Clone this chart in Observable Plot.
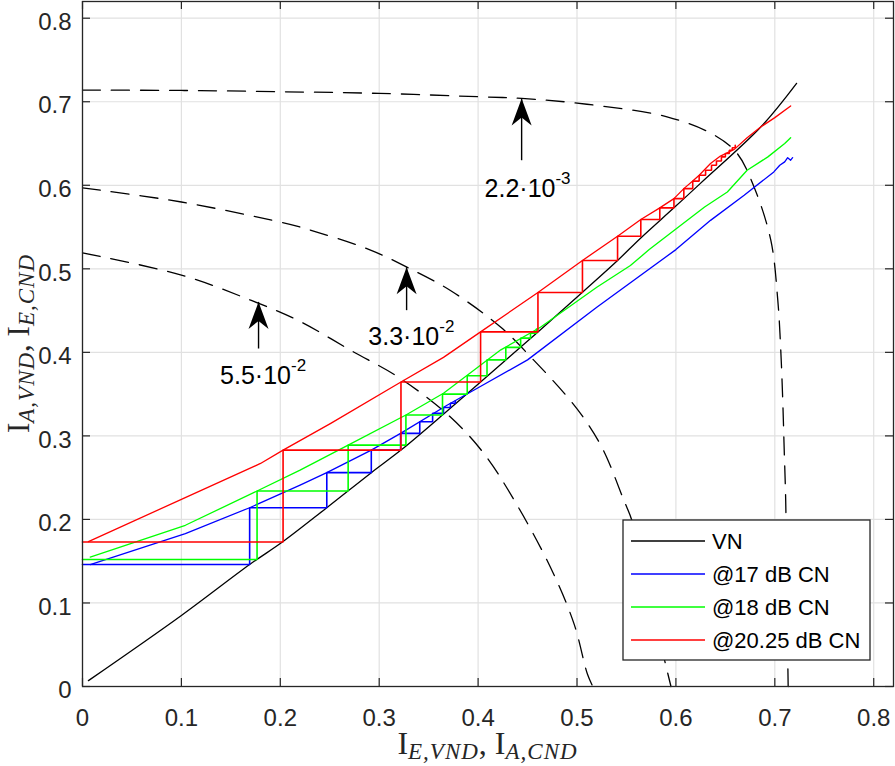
<!DOCTYPE html>
<html>
<head>
<meta charset="utf-8">
<script src="https://cdn.jsdelivr.net/npm/d3@7"></script>
<script src="https://cdn.jsdelivr.net/npm/@observablehq/plot@0.6"></script>
<style>
html, body { margin: 0; padding: 0; background: #fff; }
#chart svg { display: block; }
</style>
</head>
<body>
<div id="chart"></div>
<script>
// ---------- data ----------
const xTicks = [0, 0.1, 0.2, 0.3, 0.4, 0.5, 0.6, 0.7, 0.8];
const yTicks = [0, 0.1, 0.2, 0.3, 0.4, 0.5, 0.6, 0.7, 0.8];

// VN EXIT curve
const vnCurve = [[0.006,0.007],[0.1,0.085],[0.169,0.146],[0.2028,0.1735],[0.247,0.214],[0.292,0.256],[0.322,0.283],[0.364,0.325],[0.4025,0.3645],[0.4605,0.4245],[0.5055,0.472],[0.541,0.510],[0.5645,0.537],[0.598,0.573],[0.6245,0.602],[0.686,0.670],[0.722,0.722]];

// CN EXIT curves
const cn17 = [[0.0078,0.146],[0.104,0.183],[0.169,0.214],[0.22,0.241],[0.247,0.256],[0.292,0.283],[0.3216,0.303],[0.369,0.337],[0.396,0.355],[0.45,0.391],[0.52,0.454],[0.6,0.523],[0.635,0.558],[0.669,0.588],[0.699,0.616],[0.705,0.624],[0.71,0.628],[0.713,0.633],[0.716,0.630],[0.718,0.633]];
const cn18 = [[0.0078,0.155],[0.104,0.193],[0.1765,0.234],[0.22,0.259],[0.2686,0.289],[0.327,0.325],[0.365,0.351],[0.423,0.403],[0.463,0.430],[0.52,0.478],[0.554,0.504],[0.573,0.523],[0.629,0.574],[0.652,0.592],[0.672,0.618],[0.693,0.634],[0.71,0.650],[0.716,0.657]];
const cn2025 = [[0.006,0.1735],[0.1,0.224],[0.18,0.267],[0.2028,0.283],[0.251,0.315],[0.322,0.3645],[0.365,0.394],[0.4025,0.4245],[0.4605,0.4717],[0.5055,0.510],[0.541,0.539],[0.5645,0.559],[0.5837,0.573],[0.598,0.584],[0.608,0.596],[0.617,0.605],[0.6235,0.612],[0.635,0.626],[0.645,0.635],[0.659,0.643],[0.672,0.657],[0.686,0.670],[0.70,0.681],[0.716,0.695]];

// decoding trajectories
const traj17 = [[0,0.146],[0.169,0.146],[0.169,0.214],[0.247,0.214],[0.247,0.256],[0.292,0.256],[0.292,0.283],[0.3216,0.283],[0.3216,0.303],[0.341,0.303],[0.341,0.317],[0.354,0.317],[0.354,0.327],[0.365,0.327],[0.365,0.334],[0.372,0.334],[0.372,0.339],[0.377,0.339],[0.377,0.342]];
const traj18 = [[0,0.152],[0.1765,0.152],[0.1765,0.234],[0.2686,0.234],[0.2686,0.289],[0.327,0.289],[0.327,0.325],[0.364,0.325],[0.364,0.350],[0.389,0.350],[0.389,0.372],[0.409,0.372],[0.409,0.391],[0.428,0.391],[0.428,0.406],[0.443,0.406],[0.443,0.417],[0.453,0.417],[0.453,0.423],[0.459,0.423],[0.459,0.428]];
const traj2025 = [[0,0.173],[0.2028,0.173],[0.2028,0.283],[0.322,0.283],[0.322,0.3645],[0.4025,0.3645],[0.4025,0.4245],[0.4605,0.4245],[0.4605,0.4717],[0.5055,0.4717],[0.5055,0.510],[0.541,0.510],[0.541,0.539],[0.5645,0.539],[0.5645,0.559],[0.5837,0.559],[0.5837,0.573],[0.598,0.573],[0.598,0.584],[0.608,0.584],[0.608,0.596],[0.617,0.596],[0.617,0.605],[0.6235,0.605],[0.6235,0.612],[0.630,0.612],[0.630,0.618],[0.636,0.618],[0.636,0.624],[0.641,0.624],[0.641,0.629],[0.646,0.629],[0.646,0.634],[0.650,0.634],[0.650,0.638],[0.654,0.638],[0.654,0.642],[0.657,0.642],[0.657,0.645],[0.660,0.645],[0.660,0.648]];

// BER contour curves (dashed)
const ber22e3 = [[0,0.714],[0.1,0.7135],[0.2,0.712],[0.3,0.710],[0.4,0.706],[0.444,0.704],[0.51,0.697],[0.591,0.682],[0.639,0.660],[0.662,0.638],[0.679,0.598],[0.696,0.534],[0.703,0.4625],[0.706,0.403],[0.708,0.343],[0.7095,0.283],[0.711,0.223],[0.712,0.12],[0.7135,0]];
const ber33e2 = [[0,0.597],[0.1,0.580],[0.2,0.556],[0.22,0.550],[0.29,0.523],[0.328,0.502],[0.372,0.474],[0.423,0.430],[0.456,0.391],[0.49,0.347],[0.51,0.316],[0.527,0.282],[0.547,0.224],[0.556,0.197],[0.574,0.103],[0.595,0]];
const ber55e2 = [[0,0.519],[0.1,0.4925],[0.17,0.4625],[0.22,0.437],[0.271,0.4025],[0.3216,0.3686],[0.372,0.3225],[0.406,0.2787],[0.436,0.224],[0.473,0.143],[0.497,0.075],[0.5105,0.015],[0.516,0]];

// annotations (data coordinates)
const annotLabels = ["2.2·10^-3", "3.3·10^-2", "5.5·10^-2"];
const annotX      = [0.444, 0.3277, 0.178];
const annotTip    = [0.704, 0.502, 0.4604];
const annotTail   = [0.630, 0.4505, 0.4046];
const annotTextX  = [0.450, 0.3325, 0.1826];
const annotTextY  = [0.586, 0.4085, 0.3626];

const legendLabels = ["VN", "@17 dB CN", "@18 dB CN", "@20.25 dB CN"];
const legendColors = ["#000000", "#0000ff", "#00ff00", "#ff0000"];

// ---------- build ----------
const W = 895, H = 766;
const mL = 82, mR = 2, mT = 1, mB = 80;
const plotW = W - mL - mR, plotH = H - mT - mB;
const axisColor = "#262626";

const pts = arr => arr.map(([x, y]) => ({x, y}));
const annots = annotLabels.map((label, i) => ({
  label, x: annotX[i], tip: annotTip[i], tail: annotTail[i], tx: annotTextX[i], ty: annotTextY[i]
}));

const arrowHead = {
  draw(context) {
    context.moveTo(0, 0);
    context.lineTo(-10, 27);
    context.lineTo(0, 19);
    context.lineTo(10, 27);
    context.closePath();
  }
};

const dashed = {x: "x", y: "y", stroke: "black", strokeWidth: 1.3, strokeDasharray: "18,11", curve: "catmull-rom"};

const chart = Plot.plot({
  width: W, height: H,
  marginLeft: mL, marginRight: mR, marginTop: mT, marginBottom: mB,
  style: {fontFamily: "'Liberation Sans', Arial, Helvetica, sans-serif", background: "#fff", color: axisColor},
  x: {domain: [0, 0.82], label: null},
  y: {domain: [0, 0.82], label: null},
  marks: [
    Plot.gridX(xTicks, {stroke: "#e1e1e1", strokeOpacity: 1, strokeWidth: 1.2}),
    Plot.gridY(yTicks, {stroke: "#e1e1e1", strokeOpacity: 1, strokeWidth: 1.2}),
    Plot.line(pts(ber22e3), dashed),
    Plot.line(pts(ber33e2), dashed),
    Plot.line(pts(ber55e2), dashed),
    Plot.line(pts(vnCurve), {x: "x", y: "y", stroke: "black", strokeWidth: 1.3, curve: "catmull-rom"}),
    Plot.line(pts(cn17), {x: "x", y: "y", stroke: "#0000ff", strokeWidth: 1.3}),
    Plot.line(pts(cn18), {x: "x", y: "y", stroke: "#00ff00", strokeWidth: 1.3}),
    Plot.line(pts(cn2025), {x: "x", y: "y", stroke: "#ff0000", strokeWidth: 1.3}),
    Plot.line(pts(traj17), {x: "x", y: "y", stroke: "#0000ff", strokeWidth: 1.6, strokeLinejoin: "miter"}),
    Plot.line(pts(traj18), {x: "x", y: "y", stroke: "#00ff00", strokeWidth: 1.6, strokeLinejoin: "miter"}),
    Plot.line(pts(traj2025), {x: "x", y: "y", stroke: "#ff0000", strokeWidth: 1.6, strokeLinejoin: "miter"}),
    Plot.link(annots, {x1: "x", x2: "x", y1: "tail", y2: "tip", stroke: "black", strokeWidth: 1.4}),
    Plot.vector(annots, {x: "x", y: "tip", anchor: "start", length: 27, shape: arrowHead, fill: "black", stroke: "none"}),
    Plot.text(annots, {x: "tx", y: "ty", text: "label", fontSize: 25, lineAnchor: "bottom", textAnchor: "middle", fill: "black"}),
    // inward ticks on all four sides
    Plot.ruleX(xTicks, {insetTop: plotH - 8, stroke: axisColor, strokeWidth: 1.2}),
    Plot.ruleX(xTicks, {insetBottom: plotH - 8, stroke: axisColor, strokeWidth: 1.2}),
    Plot.ruleY(yTicks, {insetRight: plotW - 8, stroke: axisColor, strokeWidth: 1.2}),
    Plot.ruleY(yTicks, {insetLeft: plotW - 8, stroke: axisColor, strokeWidth: 1.2}),
    Plot.axisX(xTicks, {tickSize: 0, tickPadding: 22, fontSize: 24, fill: axisColor, tickFormat: d => String(d)}),
    Plot.axisY(yTicks, {tickSize: 0, tickPadding: 11, fontSize: 24, dy: 4, fill: axisColor, tickFormat: d => String(d)}),
    Plot.frame({stroke: axisColor, strokeWidth: 1.3})
  ]
});

const svg = d3.select(chart);

// superscripts in annotation labels
svg.selectAll("text").each(function () {
  const t = this.textContent;
  if (!t.includes("^")) return;
  const [base, sup] = t.split("^");
  const sel = d3.select(this);
  sel.text(null);
  sel.append("tspan").text(base);
  sel.append("tspan").attr("dy", -13).attr("font-size", 17).text(sup);
});

// axis labels (LaTeX style)
function mathLabel(g, parts, size) {
  const text = g.append("text")
    .attr("text-anchor", "middle")
    .attr("font-family", "'Liberation Serif', 'DejaVu Serif', serif")
    .attr("font-size", size)
    .attr("fill", axisColor);
  parts.forEach(([main, sub], i) => {
    text.append("tspan").attr("dy", i === 0 ? 0 : -5).text(main);
    text.append("tspan").attr("dy", 5).attr("font-size", 23).attr("font-style", "italic")
      .attr("letter-spacing", 1).text(sub);
  });
  return text;
}
mathLabel(svg.append("g").attr("transform", `translate(${mL + plotW / 2},754)`), [["I", "E,VND"], [", I", "A,CND"]], 32);
mathLabel(svg.append("g").attr("transform", `translate(29,${mT + plotH / 2}) rotate(-90)`), [["I", "A,VND"], [", I", "E,CND"]], 31);

// legend
const lg = svg.append("g").attr("transform", `translate(${mL + plotW - 270},${mT + plotH - 166})`);
lg.append("rect").attr("x", 0).attr("y", 0).attr("width", 247).attr("height", 140)
  .attr("fill", "#fff").attr("stroke", axisColor).attr("stroke-width", 1.3);
legendLabels.forEach((label, i) => {
  const cy = 21 + i * 33;
  lg.append("line").attr("x1", 8).attr("x2", 82).attr("y1", cy).attr("y2", cy)
    .attr("stroke", legendColors[i]).attr("stroke-width", 1.4);
  lg.append("text").attr("x", 89).attr("y", cy).attr("dy", "0.36em")
    .attr("text-anchor", "start")
    .attr("font-size", 22).attr("fill", "#000")
    .attr("font-family", "'Liberation Sans', Arial, Helvetica, sans-serif")
    .text(label);
});

document.getElementById("chart").appendChild(chart);
</script>
</body>
</html>
